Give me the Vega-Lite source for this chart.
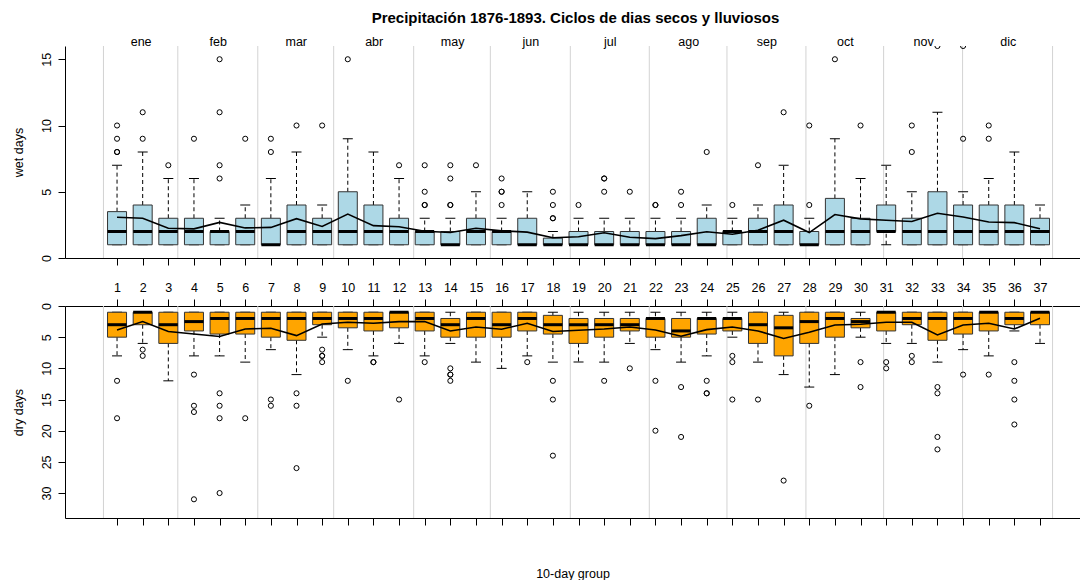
{
  "$schema": "https://vega.github.io/schema/vega-lite/v6.json",
  "padding": {"left": 12, "top": 11, "right": 0, "bottom": 0},
  "title": {
    "text": "Precipitación 1876-1893. Ciclos de dias secos y lluviosos",
    "font": "Liberation Sans",
    "fontSize": 15,
    "fontWeight": "bold",
    "color": "#000000",
    "anchor": "middle",
    "frame": "group",
    "dx": 3,
    "offset": 9
  },
  "datasets": {
    "bounds": [
      {"at": 0.47}, {"at": 3.37}, {"at": 6.49}, {"at": 9.45}, {"at": 12.57}, {"at": 15.56},
      {"at": 18.68}, {"at": 21.76}, {"at": 24.79}, {"at": 27.87}, {"at": 30.90}, {"at": 33.98}, {"at": 37.49}
    ],
    "wet": [
      {"g": 1, "lo": 1, "q1": 1, "med": 2, "q3": 3.5, "hi": 7, "mean": 3.07},
      {"g": 2, "lo": 1, "q1": 1, "med": 2, "q3": 4, "hi": 8, "mean": 3.0},
      {"g": 3, "lo": 1, "q1": 1, "med": 2, "q3": 3, "hi": 6, "mean": 2.25},
      {"g": 4, "lo": 1, "q1": 1, "med": 2, "q3": 3, "hi": 6, "mean": 2.2},
      {"g": 5, "lo": 1, "q1": 1, "med": 2, "q3": 2, "hi": 3, "mean": 2.69},
      {"g": 6, "lo": 1, "q1": 1, "med": 2, "q3": 3, "hi": 4, "mean": 2.27},
      {"g": 7, "lo": 1, "q1": 1, "med": 1, "q3": 3, "hi": 6, "mean": 2.31},
      {"g": 8, "lo": 1, "q1": 1, "med": 2, "q3": 4, "hi": 8, "mean": 2.97},
      {"g": 9, "lo": 1, "q1": 1, "med": 2, "q3": 3, "hi": 4, "mean": 2.38},
      {"g": 10, "lo": 1, "q1": 1, "med": 2, "q3": 5, "hi": 9, "mean": 3.32},
      {"g": 11, "lo": 1, "q1": 1, "med": 2, "q3": 4, "hi": 8, "mean": 2.44},
      {"g": 12, "lo": 1, "q1": 1, "med": 2, "q3": 3, "hi": 6, "mean": 2.36},
      {"g": 13, "lo": 1, "q1": 1, "med": 2, "q3": 2, "hi": 3, "mean": 2.02},
      {"g": 14, "lo": 1, "q1": 1, "med": 1, "q3": 2, "hi": 3, "mean": 1.93},
      {"g": 15, "lo": 1, "q1": 1, "med": 2, "q3": 3, "hi": 5, "mean": 2.25},
      {"g": 16, "lo": 1, "q1": 1, "med": 2, "q3": 2, "hi": 3, "mean": 2.05},
      {"g": 17, "lo": 1, "q1": 1, "med": 1, "q3": 3, "hi": 5, "mean": 1.95},
      {"g": 18, "lo": 1, "q1": 1, "med": 1, "q3": 1.5, "hi": 2, "mean": 1.53},
      {"g": 19, "lo": 1, "q1": 1, "med": 1, "q3": 2, "hi": 3, "mean": 1.6},
      {"g": 20, "lo": 1, "q1": 1, "med": 1, "q3": 2, "hi": 3, "mean": 1.9},
      {"g": 21, "lo": 1, "q1": 1, "med": 1, "q3": 2, "hi": 3, "mean": 1.57},
      {"g": 22, "lo": 1, "q1": 1, "med": 1, "q3": 2, "hi": 3, "mean": 1.46},
      {"g": 23, "lo": 1, "q1": 1, "med": 1, "q3": 2, "hi": 3, "mean": 1.69},
      {"g": 24, "lo": 1, "q1": 1, "med": 1, "q3": 3, "hi": 4, "mean": 1.98},
      {"g": 25, "lo": 1, "q1": 1, "med": 2, "q3": 2, "hi": 3, "mean": 1.79},
      {"g": 26, "lo": 1, "q1": 1, "med": 2, "q3": 3, "hi": 4, "mean": 2.1},
      {"g": 27, "lo": 1, "q1": 1, "med": 2, "q3": 4, "hi": 7, "mean": 2.85},
      {"g": 28, "lo": 1, "q1": 1, "med": 1, "q3": 2, "hi": 3, "mean": 1.92},
      {"g": 29, "lo": 1, "q1": 1, "med": 2, "q3": 4.5, "hi": 9, "mean": 3.28},
      {"g": 30, "lo": 1, "q1": 1, "med": 2, "q3": 3, "hi": 6, "mean": 2.95},
      {"g": 31, "lo": 1, "q1": 2, "med": 2, "q3": 4, "hi": 7, "mean": 2.85},
      {"g": 32, "lo": 1, "q1": 1, "med": 2, "q3": 3, "hi": 5, "mean": 2.75},
      {"g": 33, "lo": 1, "q1": 1, "med": 2, "q3": 5, "hi": 11, "mean": 3.38},
      {"g": 34, "lo": 1, "q1": 1, "med": 2, "q3": 4, "hi": 5, "mean": 3.1},
      {"g": 35, "lo": 1, "q1": 1, "med": 2, "q3": 4, "hi": 6, "mean": 2.72},
      {"g": 36, "lo": 1, "q1": 1, "med": 2, "q3": 4, "hi": 8, "mean": 2.67},
      {"g": 37, "lo": 1, "q1": 1, "med": 2, "q3": 3, "hi": 4, "mean": 2.21}
    ],
    "wetOut": [
      {"g": 1, "v": 8}, {"g": 1, "v": 8}, {"g": 1, "v": 9}, {"g": 1, "v": 10},
      {"g": 2, "v": 9}, {"g": 2, "v": 11},
      {"g": 3, "v": 7},
      {"g": 4, "v": 9},
      {"g": 5, "v": 6}, {"g": 5, "v": 7}, {"g": 5, "v": 11}, {"g": 5, "v": 15},
      {"g": 6, "v": 9},
      {"g": 7, "v": 8}, {"g": 7, "v": 9},
      {"g": 8, "v": 10},
      {"g": 9, "v": 10},
      {"g": 10, "v": 15},
      {"g": 12, "v": 7},
      {"g": 13, "v": 4}, {"g": 13, "v": 4}, {"g": 13, "v": 5}, {"g": 13, "v": 7},
      {"g": 14, "v": 4}, {"g": 14, "v": 4}, {"g": 14, "v": 6}, {"g": 14, "v": 7},
      {"g": 15, "v": 7},
      {"g": 16, "v": 4}, {"g": 16, "v": 5}, {"g": 16, "v": 5}, {"g": 16, "v": 6},
      {"g": 18, "v": 3}, {"g": 18, "v": 3}, {"g": 18, "v": 4}, {"g": 18, "v": 5},
      {"g": 19, "v": 4},
      {"g": 20, "v": 5}, {"g": 20, "v": 6}, {"g": 20, "v": 6},
      {"g": 21, "v": 5},
      {"g": 22, "v": 4}, {"g": 22, "v": 4},
      {"g": 23, "v": 4}, {"g": 23, "v": 5},
      {"g": 24, "v": 8},
      {"g": 25, "v": 4},
      {"g": 26, "v": 7},
      {"g": 27, "v": 11},
      {"g": 28, "v": 4}, {"g": 28, "v": 10},
      {"g": 29, "v": 15},
      {"g": 30, "v": 10},
      {"g": 32, "v": 8}, {"g": 32, "v": 10},
      {"g": 33, "v": 16},
      {"g": 34, "v": 9}, {"g": 34, "v": 16},
      {"g": 35, "v": 9}, {"g": 35, "v": 10}
    ],
    "dry": [
      {"g": 1, "lo": 1, "q1": 1, "med": 3, "q3": 5, "hi": 8, "mean": 3.84},
      {"g": 2, "lo": 1, "q1": 1, "med": 1, "q3": 3, "hi": 6, "mean": 2.5},
      {"g": 3, "lo": 1, "q1": 1, "med": 3, "q3": 6, "hi": 12, "mean": 4.1},
      {"g": 4, "lo": 1, "q1": 1, "med": 2.5, "q3": 4, "hi": 8, "mean": 4.5},
      {"g": 5, "lo": 1, "q1": 1, "med": 2, "q3": 4.5, "hi": 8, "mean": 4.9},
      {"g": 6, "lo": 1, "q1": 1, "med": 2, "q3": 4.5, "hi": 9, "mean": 3.68},
      {"g": 7, "lo": 1, "q1": 1, "med": 2, "q3": 5, "hi": 7, "mean": 3.57},
      {"g": 8, "lo": 1, "q1": 1, "med": 2, "q3": 5.5, "hi": 11, "mean": 4.75},
      {"g": 9, "lo": 1, "q1": 1, "med": 2, "q3": 3, "hi": 5, "mean": 2.88},
      {"g": 10, "lo": 1, "q1": 1, "med": 2, "q3": 3.5, "hi": 7, "mean": 2.61},
      {"g": 11, "lo": 1, "q1": 1, "med": 2, "q3": 4, "hi": 8, "mean": 2.77},
      {"g": 12, "lo": 1, "q1": 1, "med": 1, "q3": 3.5, "hi": 6, "mean": 2.5},
      {"g": 13, "lo": 1, "q1": 1, "med": 2, "q3": 4, "hi": 8, "mean": 2.5},
      {"g": 14, "lo": 1, "q1": 2, "med": 3, "q3": 5, "hi": 6, "mean": 4.0},
      {"g": 15, "lo": 1, "q1": 1, "med": 2, "q3": 5, "hi": 9, "mean": 3.36},
      {"g": 16, "lo": 1, "q1": 1, "med": 3, "q3": 5, "hi": 10, "mean": 3.73},
      {"g": 17, "lo": 1, "q1": 1, "med": 2, "q3": 4, "hi": 8, "mean": 2.77},
      {"g": 18, "lo": 1, "q1": 1.5, "med": 3, "q3": 4.5, "hi": 9, "mean": 4.1},
      {"g": 19, "lo": 1, "q1": 2, "med": 3, "q3": 6, "hi": 9, "mean": 3.9},
      {"g": 20, "lo": 1, "q1": 2, "med": 3, "q3": 5, "hi": 9, "mean": 3.68},
      {"g": 21, "lo": 1, "q1": 2, "med": 3, "q3": 4, "hi": 6, "mean": 3.36},
      {"g": 22, "lo": 1, "q1": 2, "med": 2, "q3": 5, "hi": 7, "mean": 3.84},
      {"g": 23, "lo": 1, "q1": 2, "med": 4, "q3": 5, "hi": 9, "mean": 4.85},
      {"g": 24, "lo": 1, "q1": 2, "med": 2, "q3": 4.5, "hi": 8, "mean": 3.79},
      {"g": 25, "lo": 1, "q1": 2, "med": 2, "q3": 4, "hi": 5, "mean": 3.36},
      {"g": 26, "lo": 1, "q1": 1, "med": 3, "q3": 6, "hi": 9, "mean": 4.0},
      {"g": 27, "lo": 1, "q1": 1.5, "med": 3.5, "q3": 8, "hi": 11, "mean": 5.2},
      {"g": 28, "lo": 1, "q1": 1, "med": 2.5, "q3": 6, "hi": 13, "mean": 4.2},
      {"g": 29, "lo": 1, "q1": 1, "med": 2, "q3": 5, "hi": 11, "mean": 3.04},
      {"g": 30, "lo": 1, "q1": 2, "med": 2.5, "q3": 3.5, "hi": 5, "mean": 2.93},
      {"g": 31, "lo": 1, "q1": 1, "med": 1, "q3": 4, "hi": 6, "mean": 2.61},
      {"g": 32, "lo": 1, "q1": 1, "med": 2, "q3": 3, "hi": 6, "mean": 2.61},
      {"g": 33, "lo": 1, "q1": 1, "med": 2, "q3": 5.5, "hi": 9, "mean": 4.64},
      {"g": 34, "lo": 1, "q1": 1, "med": 2, "q3": 4.5, "hi": 7, "mean": 3.04},
      {"g": 35, "lo": 1, "q1": 1, "med": 1, "q3": 4, "hi": 8, "mean": 2.77},
      {"g": 36, "lo": 1, "q1": 1, "med": 2, "q3": 3, "hi": 4, "mean": 3.68},
      {"g": 37, "lo": 1, "q1": 1, "med": 1, "q3": 3, "hi": 6, "mean": 1.97}
    ],
    "dryOut": [
      {"g": 1, "v": 12}, {"g": 1, "v": 18},
      {"g": 2, "v": 7}, {"g": 2, "v": 8},
      {"g": 4, "v": 11}, {"g": 4, "v": 16}, {"g": 4, "v": 17}, {"g": 4, "v": 31},
      {"g": 5, "v": 14}, {"g": 5, "v": 16}, {"g": 5, "v": 18}, {"g": 5, "v": 30},
      {"g": 6, "v": 18},
      {"g": 7, "v": 15}, {"g": 7, "v": 16},
      {"g": 8, "v": 14}, {"g": 8, "v": 16}, {"g": 8, "v": 26},
      {"g": 9, "v": 7}, {"g": 9, "v": 8}, {"g": 9, "v": 8}, {"g": 9, "v": 9},
      {"g": 10, "v": 12},
      {"g": 11, "v": 9}, {"g": 11, "v": 9},
      {"g": 12, "v": 15},
      {"g": 13, "v": 9},
      {"g": 14, "v": 10}, {"g": 14, "v": 11}, {"g": 14, "v": 11}, {"g": 14, "v": 12},
      {"g": 17, "v": 9},
      {"g": 18, "v": 12}, {"g": 18, "v": 15}, {"g": 18, "v": 24},
      {"g": 20, "v": 12},
      {"g": 21, "v": 10},
      {"g": 22, "v": 12}, {"g": 22, "v": 20},
      {"g": 23, "v": 13}, {"g": 23, "v": 21},
      {"g": 24, "v": 12}, {"g": 24, "v": 14}, {"g": 24, "v": 14},
      {"g": 25, "v": 8}, {"g": 25, "v": 9}, {"g": 25, "v": 15},
      {"g": 26, "v": 15},
      {"g": 27, "v": 28},
      {"g": 28, "v": 16},
      {"g": 30, "v": 9}, {"g": 30, "v": 13},
      {"g": 31, "v": 9}, {"g": 31, "v": 10},
      {"g": 32, "v": 8}, {"g": 32, "v": 9},
      {"g": 33, "v": 13}, {"g": 33, "v": 14}, {"g": 33, "v": 21}, {"g": 33, "v": 23},
      {"g": 34, "v": 11},
      {"g": 35, "v": 11},
      {"g": 36, "v": 9}, {"g": 36, "v": 12}, {"g": 36, "v": 15}, {"g": 36, "v": 19}
    ]
  },
  "bounds": "flush",
  "spacing": 48,
  "vconcat": [
    {
      "width": 1015,
      "height": 212,
      "resolve": {"scale": {"x": "shared"}, "axis": {"x": "independent"}},
      "layer": [
        {
          "data": {"name": "bounds"},
          "mark": {"type": "rule", "color": "#d3d3d3", "strokeWidth": 1},
          "encoding": {
            "x": {
              "field": "at", "type": "quantitative",
              "scale": {"domain": [-1.03, 38.56], "nice": false, "zero": false, "padding": 0},
              "axis": {
                "orient": "top", "title": null, "ticks": false, "domain": false,
                "values": [1.92, 4.93, 7.97, 11.01, 14.07, 17.12, 20.22, 23.28, 26.33, 29.39, 32.44, 35.74],
                "labelExpr": "['ene','feb','mar','abr','may','jun','jul','ago','sep','oct','nov','dic'][indexof([1.92, 4.93, 7.97, 11.01, 14.07, 17.12, 20.22, 23.28, 26.33, 29.39, 32.44, 35.74], datum.value)]",
                "labelBaseline": "alphabetic", "labelPadding": 1
              }
            }
          }
        },
        {
          "data": {"name": "wet"},
          "encoding": {
            "x": {
              "field": "g", "type": "quantitative",
              "scale": {"domain": [-1.03, 38.56], "nice": false, "zero": false, "padding": 0},
              "axis": {
                "orient": "bottom", "title": null, "labels": false,
                "values": [1,2,3,4,5,6,7,8,9,10,11,12,13,14,15,16,17,18,19,20,21,22,23,24,25,26,27,28,29,30,31,32,33,34,35,36,37]
              }
            }
          },
          "layer": [
            {
              "mark": {"type": "rule", "color": "#000000", "strokeDash": [4, 3], "strokeWidth": 1},
              "encoding": {
                "y": {"field": "lo", "type": "quantitative", "title": "wet days", "scale": {"domain": [0, 16], "nice": false}, "axis": {"values": [0, 5, 10, 15]}},
                "y2": {"field": "q1"}
              }
            },
            {
              "mark": {"type": "rule", "color": "#000000", "strokeDash": [4, 3], "strokeWidth": 1},
              "encoding": {
                "y": {"field": "q3", "type": "quantitative", "title": "wet days", "scale": {"domain": [0, 16], "nice": false}, "axis": {"values": [0, 5, 10, 15]}},
                "y2": {"field": "hi"}
              }
            },
            {
              "mark": {"type": "tick", "orient": "horizontal", "color": "#000000", "size": 10, "thickness": 1, "opacity": 1},
              "encoding": {
                "y": {"field": "lo", "type": "quantitative", "title": "wet days", "scale": {"domain": [0, 16], "nice": false}, "axis": {"values": [0, 5, 10, 15]}}
              }
            },
            {
              "mark": {"type": "tick", "orient": "horizontal", "color": "#000000", "size": 10, "thickness": 1, "opacity": 1},
              "encoding": {
                "y": {"field": "hi", "type": "quantitative", "title": "wet days", "scale": {"domain": [0, 16], "nice": false}, "axis": {"values": [0, 5, 10, 15]}}
              }
            },
            {
              "mark": {"type": "bar", "width": 19, "fill": "#add8e6", "stroke": "#333333", "strokeWidth": 1, "opacity": 1},
              "encoding": {
                "y": {"field": "q1", "type": "quantitative", "title": "wet days", "scale": {"domain": [0, 16], "nice": false}, "axis": {"values": [0, 5, 10, 15]}},
                "y2": {"field": "q3"}
              }
            },
            {
              "mark": {"type": "tick", "orient": "horizontal", "color": "#000000", "size": 19, "thickness": 3, "opacity": 1},
              "encoding": {
                "y": {"field": "med", "type": "quantitative", "title": "wet days", "scale": {"domain": [0, 16], "nice": false}, "axis": {"values": [0, 5, 10, 15]}}
              }
            },
            {
              "mark": {"type": "line", "color": "#000000", "strokeWidth": 1.6},
              "encoding": {
                "y": {"field": "mean", "type": "quantitative", "title": "wet days", "scale": {"domain": [0, 16], "nice": false}, "axis": {"values": [0, 5, 10, 15]}}
              }
            },
            {
              "data": {"name": "wetOut"},
              "mark": {"type": "point", "shape": "circle", "filled": false, "color": "#000000", "size": 26, "strokeWidth": 1, "opacity": 1, "clip": true},
              "encoding": {
                "y": {"field": "v", "type": "quantitative", "title": "wet days", "scale": {"domain": [0, 16], "nice": false}, "axis": {"values": [0, 5, 10, 15]}}
              }
            }
          ]
        }
      ]
    },
    {
      "width": 1015,
      "height": 212,
      "resolve": {"scale": {"x": "shared"}, "axis": {"x": "independent"}},
      "layer": [
        {
          "data": {"name": "bounds"},
          "mark": {"type": "rule", "color": "#d3d3d3", "strokeWidth": 1},
          "encoding": {
            "x": {
              "field": "at", "type": "quantitative",
              "scale": {"domain": [-1.03, 38.56], "nice": false, "zero": false, "padding": 0},
              "axis": {
                "orient": "top", "title": null,
                "values": [1,2,3,4,5,6,7,8,9,10,11,12,13,14,15,16,17,18,19,20,21,22,23,24,25,26,27,28,29,30,31,32,33,34,35,36,37],
                "labelBaseline": "alphabetic", "labelPadding": 7.5
              }
            }
          }
        },
        {
          "data": {"name": "dry"},
          "encoding": {
            "x": {
              "field": "g", "type": "quantitative",
              "scale": {"domain": [-1.03, 38.56], "nice": false, "zero": false, "padding": 0},
              "axis": {
                "orient": "bottom", "title": "10-day group", "labels": false,
                "titleY": 59, "titleBaseline": "alphabetic",
                "values": [1,2,3,4,5,6,7,8,9,10,11,12,13,14,15,16,17,18,19,20,21,22,23,24,25,26,27,28,29,30,31,32,33,34,35,36,37]
              }
            }
          },
          "layer": [
            {
              "mark": {"type": "rule", "color": "#000000", "strokeDash": [4, 3], "strokeWidth": 1},
              "encoding": {
                "y": {"field": "lo", "type": "quantitative", "title": "dry days", "scale": {"domain": [0, 34], "nice": false, "reverse": true}, "axis": {"values": [0, 5, 10, 15, 20, 25, 30]}},
                "y2": {"field": "q1"}
              }
            },
            {
              "mark": {"type": "rule", "color": "#000000", "strokeDash": [4, 3], "strokeWidth": 1},
              "encoding": {
                "y": {"field": "q3", "type": "quantitative", "title": "dry days", "scale": {"domain": [0, 34], "nice": false, "reverse": true}, "axis": {"values": [0, 5, 10, 15, 20, 25, 30]}},
                "y2": {"field": "hi"}
              }
            },
            {
              "mark": {"type": "tick", "orient": "horizontal", "color": "#000000", "size": 10, "thickness": 1, "opacity": 1},
              "encoding": {
                "y": {"field": "lo", "type": "quantitative", "title": "dry days", "scale": {"domain": [0, 34], "nice": false, "reverse": true}, "axis": {"values": [0, 5, 10, 15, 20, 25, 30]}}
              }
            },
            {
              "mark": {"type": "tick", "orient": "horizontal", "color": "#000000", "size": 10, "thickness": 1, "opacity": 1},
              "encoding": {
                "y": {"field": "hi", "type": "quantitative", "title": "dry days", "scale": {"domain": [0, 34], "nice": false, "reverse": true}, "axis": {"values": [0, 5, 10, 15, 20, 25, 30]}}
              }
            },
            {
              "mark": {"type": "bar", "width": 19, "fill": "#ffa500", "stroke": "#333333", "strokeWidth": 1, "opacity": 1},
              "encoding": {
                "y": {"field": "q1", "type": "quantitative", "title": "dry days", "scale": {"domain": [0, 34], "nice": false, "reverse": true}, "axis": {"values": [0, 5, 10, 15, 20, 25, 30]}},
                "y2": {"field": "q3"}
              }
            },
            {
              "mark": {"type": "tick", "orient": "horizontal", "color": "#000000", "size": 19, "thickness": 3, "opacity": 1},
              "encoding": {
                "y": {"field": "med", "type": "quantitative", "title": "dry days", "scale": {"domain": [0, 34], "nice": false, "reverse": true}, "axis": {"values": [0, 5, 10, 15, 20, 25, 30]}}
              }
            },
            {
              "mark": {"type": "line", "color": "#000000", "strokeWidth": 1.6},
              "encoding": {
                "y": {"field": "mean", "type": "quantitative", "title": "dry days", "scale": {"domain": [0, 34], "nice": false, "reverse": true}, "axis": {"values": [0, 5, 10, 15, 20, 25, 30]}}
              }
            },
            {
              "data": {"name": "dryOut"},
              "mark": {"type": "point", "shape": "circle", "filled": false, "color": "#000000", "size": 26, "strokeWidth": 1, "opacity": 1, "clip": true},
              "encoding": {
                "y": {"field": "v", "type": "quantitative", "title": "dry days", "scale": {"domain": [0, 34], "nice": false, "reverse": true}, "axis": {"values": [0, 5, 10, 15, 20, 25, 30]}}
              }
            }
          ]
        }
      ]
    }
  ],
  "config": {
    "font": "Liberation Sans",
    "background": "#ffffff",
    "view": {"stroke": null},
    "axis": {
      "grid": false,
      "domainColor": "#000000",
      "domainWidth": 1,
      "tickColor": "#000000",
      "tickWidth": 1,
      "tickSize": 7,
      "labelColor": "#000000",
      "titleColor": "#000000",
      "labelFont": "Liberation Sans",
      "titleFont": "Liberation Sans",
      "labelFontSize": 12.5,
      "titleFontSize": 12.5,
      "titleFontWeight": "normal",
      "labelFlush": false,
      "labelOverlap": false
    },
    "axisY": {
      "labelAngle": -90,
      "labelAlign": "center",
      "labelBaseline": "alphabetic",
      "labelPadding": 8,
      "titleAngle": 270,
      "titleX": -43,
      "titleY": 106,
      "titleAlign": "center",
      "titleBaseline": "alphabetic"
    }
  }
}
